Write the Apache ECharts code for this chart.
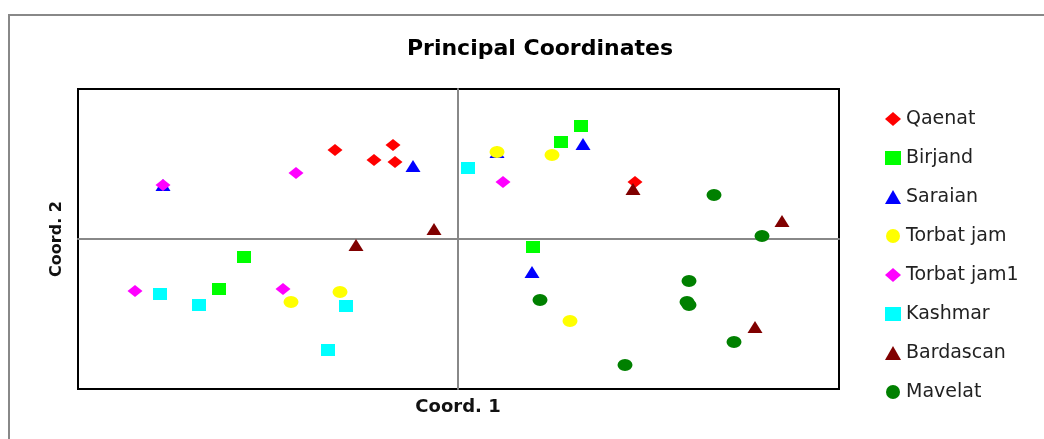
<!DOCTYPE html>
<html>
<head>
<meta charset="utf-8">
<script src="https://cdn.jsdelivr.net/npm/echarts@6/dist/echarts.min.js"></script>
<style>html,body{margin:0;padding:0;background:#fff;}#c{width:1044px;height:439px;}</style>
</head>
<body>
<div id="c"></div>
<script>
const seriesNames = ['Qaenat','Birjand','Saraian','Torbat jam','Torbat jam1','Kashmar','Bardascan','Mavelat'];
const qaenat = [[-0.123,0.089],[-0.065,0.094],[-0.084,0.079],[-0.063,0.077],[0.177,0.057]];
const birjand = [[0.123,0.113],[0.103,0.097],[0.075,-0.008],[-0.214,-0.018],[-0.239,-0.050]];
const saraian = [[-0.295,0.054],[-0.045,0.073],[0.039,0.087],[0.125,0.095],[0.074,-0.033]];
const torbatJam = [[0.039,0.087],[0.094,0.084],[-0.167,-0.063],[-0.118,-0.053],[0.112,-0.082]];
const torbatJam1 = [[-0.295,0.054],[-0.162,0.066],[0.045,0.057],[-0.323,-0.052],[-0.175,-0.050]];
const kashmar = [[0.010,0.071],[-0.298,-0.055],[-0.259,-0.066],[-0.112,-0.067],[-0.130,-0.111]];
const bardascan = [[-0.024,0.010],[-0.102,-0.006],[0.175,0.050],[0.324,0.018],[0.297,-0.088]];
const mavelat = [[0.256,0.044],[0.304,0.003],[0.231,-0.042],[0.229,-0.063],[0.231,-0.066],[0.082,-0.061],[0.276,-0.103],[0.167,-0.126]];

const allData = [qaenat,birjand,saraian,torbatJam,torbatJam1,kashmar,bardascan,mavelat];
const colors = ['#FF0000','#00FF00','#0000FF','#FFFF00','#FF00FF','#00FFFF','#800000','#008000'];
const symbols = ['diamond','rect','triangle','circle','diamond','rect','triangle','circle'];
const sizes = [[15,12],[14,12],[15,12],[15,12],[15,12],[14,12],[15,12],[15,12]];

const chart = echarts.init(document.getElementById('c'), null, {renderer:'canvas'});
const series = seriesNames.map((n,i)=>({
  name:n, type:'scatter', data:allData[i], symbol:symbols[i], symbolSize:sizes[i],
  itemStyle:{color:colors[i], opacity:1}, emphasis:{disabled:true}, z:2
}));
chart.setOption({
  animation:false,
  backgroundColor:'#fff',
  title:{text:'Principal Coordinates', left:535, top:33, textAlign:'center',
    textStyle:{fontFamily:'DejaVu Sans', fontWeight:'bold', fontSize:22, color:'#000'}},
  grid:{left:78, top:89, width:761, height:300, show:true, borderColor:'#000', borderWidth:2, containLabel:false},
  xAxis:{type:'value', min:-0.38, max:0.381, axisLine:{onZero:true, lineStyle:{color:'#888', width:2}},
    axisTick:{show:false}, axisLabel:{show:false}, splitLine:{show:false}},
  yAxis:{type:'value', min:-0.15, max:0.15, axisLine:{show:true, onZero:true, lineStyle:{color:'#888', width:2}},
    axisTick:{show:false}, axisLabel:{show:false}, splitLine:{show:false}},
  legend:{orient:'vertical', left:880, top:104, itemWidth:16, itemHeight:14, itemGap:19,
    data:seriesNames, selectedMode:false,
    textStyle:{fontFamily:'DejaVu Sans', fontSize:19, color:'#222', lineHeight:20}},
  graphic:[
    {type:'rect', shape:{x:9, y:15, width:1100, height:500}, style:{fill:'none', stroke:'#888', lineWidth:2}, z:-1, silent:true},
    {type:'text', x:458, y:407, style:{text:'Coord. 1', font:'bold 18px "DejaVu Sans"', fill:'#111', textAlign:'center', textVerticalAlign:'middle'}},
    {type:'text', x:57, y:239, rotation:Math.PI/2, style:{text:'Coord. 2', font:'bold 16px "DejaVu Sans"', fill:'#111', textAlign:'center', textVerticalAlign:'middle'}}
  ],
  series:series
});
</script>
</body>
</html>
